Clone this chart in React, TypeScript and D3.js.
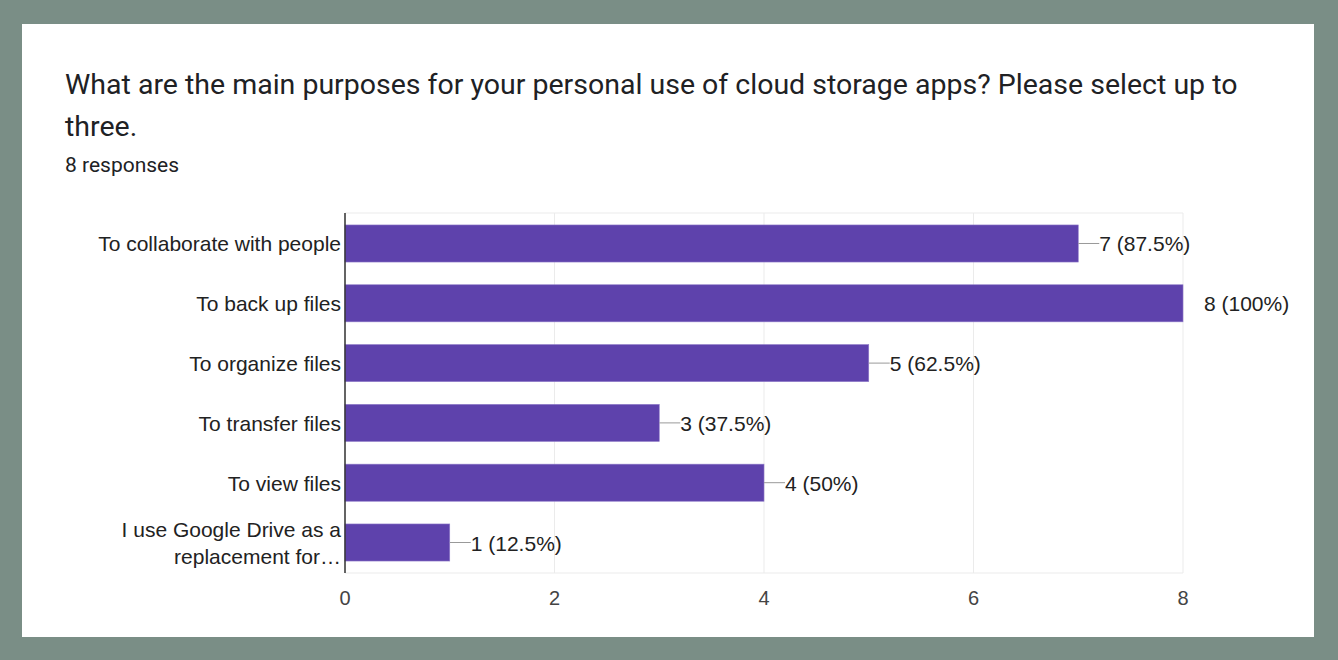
import React, { useEffect, useRef } from 'react';
import * as d3 from 'd3';

const categories = [
  'To collaborate with people',
  'To back up files',
  'To organize files',
  'To transfer files',
  'To view files',
  'I use Google Drive as a replacement for…',
];
const counts = [7, 8, 5, 3, 4, 1];
const valueLabels = ['7 (87.5%)', '8 (100%)', '5 (62.5%)', '3 (37.5%)', '4 (50%)', '1 (12.5%)'];
const xTicks = [0, 2, 4, 6, 8];

const width = 1338;
const height = 660;

export default function App() {
  const ref = useRef<SVGSVGElement>(null);

  useEffect(() => {
    const svg = d3.select(ref.current);
    svg.selectAll('*').remove();

    // background + card
    svg.append('rect').attr('width', width).attr('height', height).attr('fill', '#7a8e86');
    svg.append('rect').attr('x', 22).attr('y', 24).attr('width', 1292).attr('height', 613).attr('fill', '#ffffff');

    // title
    const title = svg.append('g').attr('font-family', 'Roboto, sans-serif').attr('fill', '#202124');
    title.append('text').attr('x', 65).attr('y', 94).attr('font-size', 28.5)
      .text('What are the main purposes for your personal use of cloud storage apps? Please select up to');
    title.append('text').attr('x', 65).attr('y', 136).attr('font-size', 28.5).text('three.');
    title.append('text').attr('x', 65).attr('y', 172).attr('font-size', 21).text('8 responses');

    const left = 345, right = 1183, top = 213, bottom = 573;
    const x = d3.scaleLinear().domain([0, 8]).range([left, right]);
    const y = d3.scaleBand().domain(categories).range([top, bottom]).paddingInner(0.38).paddingOuter(0.2);

    const g = svg.append('g').attr('font-family', '"Liberation Sans", Arial, sans-serif');

    // grid
    g.selectAll('.grid').data(xTicks).enter().append('line')
      .attr('x1', d => x(d)).attr('x2', d => x(d))
      .attr('y1', top).attr('y2', bottom)
      .attr('stroke', '#ebebeb').attr('stroke-width', 1);
    g.append('line').attr('x1', left).attr('x2', right).attr('y1', top).attr('y2', top).attr('stroke', '#ebebeb');
    g.append('line').attr('x1', left).attr('x2', right).attr('y1', bottom).attr('y2', bottom).attr('stroke', '#ebebeb');

    // bars
    g.selectAll('.bar').data(categories).enter().append('rect')
      .attr('x', x(0))
      .attr('y', d => y(d)!)
      .attr('width', (d, i) => x(counts[i]) - x(0))
      .attr('height', y.bandwidth())
      .attr('fill', '#5e42ac')
      .attr('stroke', '#8f7bc9').attr('stroke-width', 0.6);

    // leader lines + value labels
    const maxC = d3.max(counts)!;
    categories.forEach((c, i) => {
      const cy = y(c)! + y.bandwidth() / 2;
      const xe = x(counts[i]);
      if (counts[i] < maxC) {
        g.append('line').attr('x1', xe).attr('x2', xe + 21).attr('y1', cy).attr('y2', cy)
          .attr('stroke', '#999999').attr('stroke-width', 1);
      }
      g.append('text').attr('x', xe + 21).attr('y', cy + 8).attr('font-size', 21)
        .attr('fill', '#222222').text(valueLabels[i]);
    });

    // axis line
    g.append('line').attr('x1', left).attr('x2', left).attr('y1', top).attr('y2', bottom)
      .attr('stroke', '#333333').attr('stroke-width', 1.5);

    // category labels
    categories.forEach((c, i) => {
      const cy = y(c)! + y.bandwidth() / 2;
      const t = g.append('text').attr('text-anchor', 'end').attr('font-size', 21).attr('fill', '#222222');
      if (i === categories.length - 1) {
        t.append('tspan').attr('x', 341).attr('y', cy - 6).text('I use Google Drive as a');
        t.append('tspan').attr('x', 341).attr('y', cy + 21).text('replacement for…');
      } else {
        t.attr('x', 341).attr('y', cy + 8).text(c);
      }
    });

    // x tick labels
    g.selectAll('.tick').data(xTicks).enter().append('text')
      .attr('x', d => x(d)).attr('y', 605)
      .attr('text-anchor', 'middle').attr('font-size', 20).attr('fill', '#444444')
      .text(d => String(d));
  }, []);

  return (
    <div style={{ position: 'absolute', left: 0, top: 0 }}>
      <svg ref={ref} width={width} height={height} />
    </div>
  );
}
